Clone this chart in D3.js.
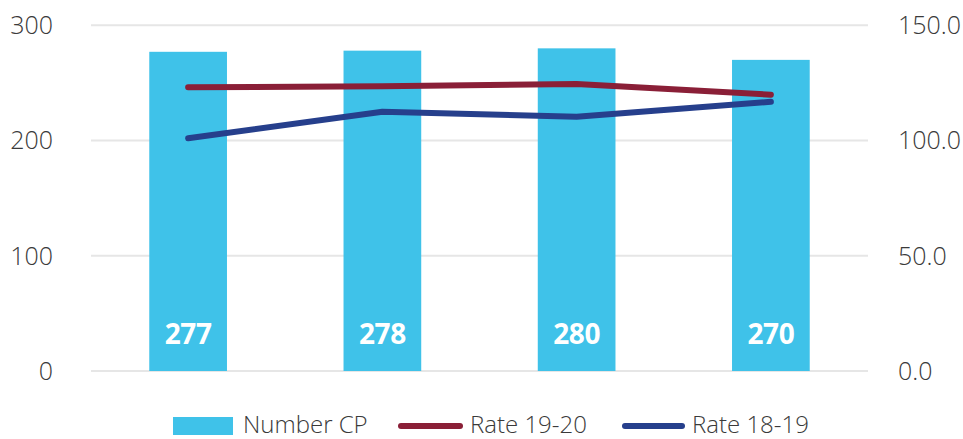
<!DOCTYPE html>
<html lang="en">
<head>
    <meta charset="UTF-8">
    <title>Number CP and rates</title>
    <script src="https://d3js.org/d3.v7.min.js"></script>
    <style>
        body {
            margin: 0;
            background: #ffffff;
            font-family: 'Open Sans', 'DejaVu Sans', sans-serif;
        }
        .tick-label {
            font-size: 25px;
            font-weight: 300;
            fill: #3a3a3a;
        }
        .bar-label {
            font-size: 28px;
            font-weight: 700;
            fill: #ffffff;
            letter-spacing: -0.5px;
        }
        .legend-label {
            font-size: 24px;
            font-weight: 300;
            fill: #3a3a3a;
        }
    </style>
</head>
<body>
    <svg id="chart" width="963" height="439"></svg>

    <script>
        const categories = ['A', 'B', 'C', 'D'];
        const numberCP = [277, 278, 280, 270];
        const rate1920 = [123.1, 123.6, 124.5, 119.9];
        const rate1819 = [101.0, 112.5, 110.3, 116.8];
        const leftTicks = [0, 100, 200, 300];
        const rightTicks = [0, 50, 100, 150];

        const colors = {
            bar: '#3fc2e9',
            rate1920: '#8a1f37',
            rate1819: '#263f8c',
            grid: '#e6e6e6'
        };

        const plot = { left: 91, right: 868, top: 25.3, bottom: 371 };
        const svg = d3.select('#chart');

        const x = d3.scaleBand()
            .domain(categories)
            .range([plot.left, plot.right])
            .padding(0);

        const yLeft = d3.scaleLinear().domain([0, 300]).range([plot.bottom, plot.top]);
        const yRight = d3.scaleLinear().domain([0, 150]).range([plot.bottom, plot.top]);

        const barWidth = x.bandwidth() * 0.4;
        const cx = d => x(d) + x.bandwidth() / 2;

        // gridlines
        svg.append('g')
            .selectAll('line')
            .data(leftTicks)
            .join('line')
            .attr('x1', plot.left)
            .attr('x2', plot.right)
            .attr('y1', d => yLeft(d))
            .attr('y2', d => yLeft(d))
            .attr('stroke', colors.grid)
            .attr('stroke-width', 2);

        // left axis labels
        svg.append('g')
            .selectAll('text')
            .data(leftTicks)
            .join('text')
            .attr('class', 'tick-label')
            .attr('x', 53)
            .attr('y', d => yLeft(d))
            .attr('dy', '0.35em')
            .attr('text-anchor', 'end')
            .text(d => d);

        // right axis labels
        svg.append('g')
            .selectAll('text')
            .data(rightTicks)
            .join('text')
            .attr('class', 'tick-label')
            .attr('x', 898)
            .attr('y', d => yRight(d))
            .attr('dy', '0.35em')
            .attr('text-anchor', 'start')
            .text(d => d.toFixed(1));

        // bars
        svg.append('g')
            .selectAll('rect')
            .data(categories)
            .join('rect')
            .attr('x', d => cx(d) - barWidth / 2)
            .attr('y', (d, i) => yLeft(numberCP[i]))
            .attr('width', barWidth)
            .attr('height', (d, i) => yLeft(0) - yLeft(numberCP[i]))
            .attr('fill', colors.bar);

        svg.append('g')
            .selectAll('text')
            .data(categories)
            .join('text')
            .attr('class', 'bar-label')
            .attr('x', d => cx(d))
            .attr('y', 334)
            .attr('dy', '0.35em')
            .attr('text-anchor', 'middle')
            .text((d, i) => numberCP[i]);

        // lines
        const line = d3.line()
            .x(d => cx(d[0]))
            .y(d => yRight(d[1]));

        [[rate1920, colors.rate1920], [rate1819, colors.rate1819]].forEach(([vals, color]) => {
            svg.append('path')
                .datum(categories.map((c, i) => [c, vals[i]]))
                .attr('d', line)
                .attr('fill', 'none')
                .attr('stroke', color)
                .attr('stroke-width', 6)
                .attr('stroke-linecap', 'round')
                .attr('stroke-linejoin', 'round');
        });

        // legend
        const legendY = 425;
        const legend = svg.append('g');
        legend.append('rect')
            .attr('x', 173).attr('y', legendY - 8)
            .attr('width', 60).attr('height', 18)
            .attr('fill', colors.bar);
        legend.append('text')
            .attr('class', 'legend-label')
            .attr('x', 243).attr('y', legendY).attr('dy', '0.35em')
            .text('Number CP');

        legend.append('line')
            .attr('x1', 401).attr('x2', 460).attr('y1', legendY + 1).attr('y2', legendY + 1)
            .attr('stroke', colors.rate1920).attr('stroke-width', 6).attr('stroke-linecap', 'round');
        legend.append('text')
            .attr('class', 'legend-label')
            .attr('x', 470).attr('y', legendY).attr('dy', '0.35em')
            .text('Rate 19-20');

        legend.append('line')
            .attr('x1', 625).attr('x2', 682).attr('y1', legendY + 1).attr('y2', legendY + 1)
            .attr('stroke', colors.rate1819).attr('stroke-width', 6).attr('stroke-linecap', 'round');
        legend.append('text')
            .attr('class', 'legend-label')
            .attr('x', 692).attr('y', legendY).attr('dy', '0.35em')
            .text('Rate 18-19');
    </script>
</body>
</html>
